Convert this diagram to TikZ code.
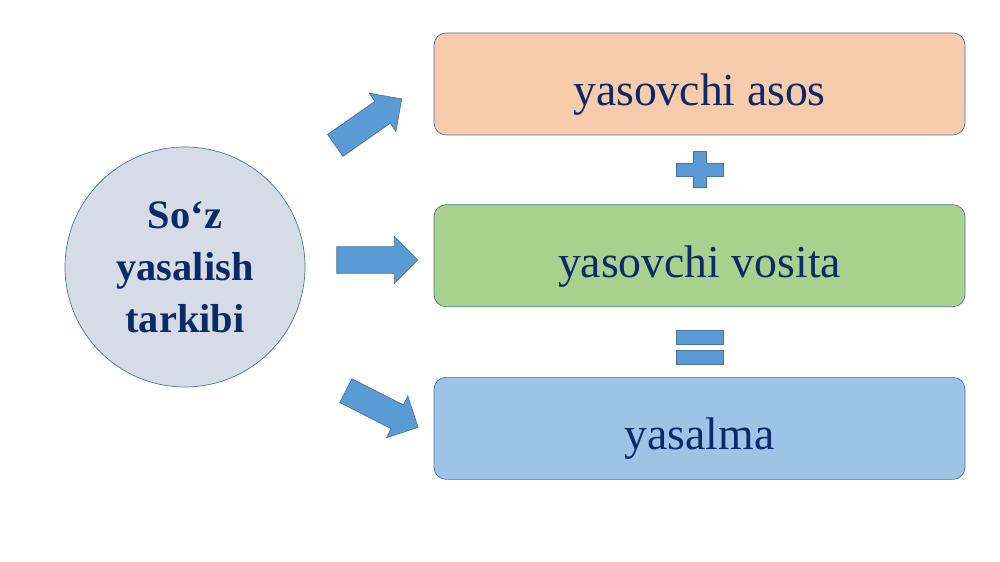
\documentclass[tikz,border=0pt]{standalone}
\usepackage{fontspec}
\setmainfont{Liberation Serif}
\usepackage{tikz}
\usetikzlibrary{shapes,arrows,positioning,calc}
\definecolor{navytext}{HTML}{0B2A66}
\definecolor{edgeblue}{HTML}{4A74A0}
\definecolor{arrowblue}{HTML}{5B9BD5}
\definecolor{peach}{HTML}{F8CBAD}
\definecolor{leafgreen}{HTML}{A9D18E}
\definecolor{skyblue}{HTML}{9DC3E6}
\definecolor{mist}{HTML}{D6DCE5}

\begin{document}
\begin{tikzpicture}[
  partbox/.style={draw=edgeblue, rounded corners=0.24cm, minimum width=10.62cm, minimum height=2.04cm, text height=1.06cm, text depth=0.2cm, text=navytext, font=\fontsize{26}{30}\selectfont},
  blockarrow/.style={single arrow, draw=edgeblue, fill=arrowblue, minimum height=1.62cm, minimum width=0.92cm, inner xsep=0pt, inner ysep=0.26cm, single arrow head extend=0.2cm},
  signbar/.style={draw=edgeblue, fill=arrowblue, minimum width=0.94cm, minimum height=0.28cm, inner sep=0pt}
]
\useasboundingbox (0,0) rectangle (20,11.24);
\node[circle, draw=edgeblue, fill=mist, minimum size=4.8cm, align=center, text=navytext, font=\bfseries\fontsize{23}{29.5}\selectfont] (word) at (3.7,5.9) {So‘z\\yasalish\\tarkibi};
\node[partbox, fill=peach] (base) at (13.99,9.56) {yasovchi asos};
\node[partbox, fill=leafgreen, below=1.38cm of base] (means) {yasovchi vosita};
\node[partbox, fill=skyblue, below=1.4cm of means] (result) {yasalma};
\node[blockarrow, rotate=35] (arrtop) at (7.26,8.72) {};
\node[blockarrow] (arrmid) at (7.41,6.04) {};
\node[blockarrow, rotate=-27] (arrbot) at (7.52,3.12) {};
\coordinate (plus) at ($(base.south)!0.5!(means.north)$);
\coordinate (eq) at ($(means.south)!0.5!(result.north)$);
\draw[edgeblue, fill=arrowblue] (plus) ++(-0.47,-0.13) -- ++(0.34,0) -- ++(0,-0.23) -- ++(0.26,0) -- ++(0,0.23) -- ++(0.34,0) -- ++(0,0.26) -- ++(-0.34,0) -- ++(0,0.23) -- ++(-0.26,0) -- ++(0,-0.23) -- ++(-0.34,0) -- cycle;
\node[signbar] (eqtop) at ($(eq)+(0,0.09)$) {};
\node[signbar] (eqbot) at ($(eq)+(0,-0.31)$) {};
\end{tikzpicture}
\end{document}
